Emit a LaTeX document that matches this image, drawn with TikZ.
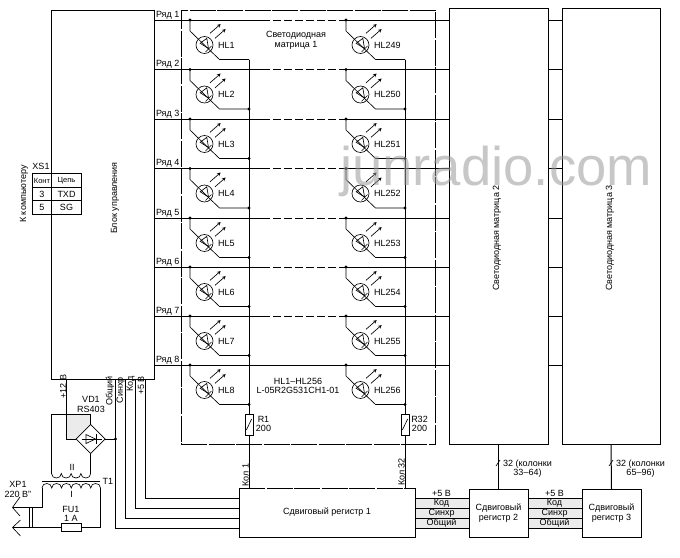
\documentclass[tikz,border=0pt]{standalone}
\usepackage{fontspec}
\setmainfont{Liberation Sans}
\usepackage{tikz}
\usetikzlibrary{shapes.geometric}
\usetikzlibrary{arrows}
\tikzset{
  every path/.style={line width=0.65pt},
  every node/.style={font=\fontsize{9}{9.5}\selectfont,inner sep=0pt,outer sep=0pt},
  box/.style={draw,inner sep=0pt,outer sep=0pt},
  ledbody/.style={draw,circle,minimum size=17pt},
  longdash/.style={dash pattern=on 26pt off 1.5pt},
  omitdash/.style={dash pattern=on 8pt off 3pt},
  lab/.style={align=center},
  shade/.style={fill=black!8,draw=none},
  tabtxt/.style={font=\fontsize{7.5}{8}\selectfont}
}
\newcommand{\dotmark}[1]{\fill #1 circle (1.7pt);}
\newcommand{\ledcell}[3]{
\coordinate (d#3) at (#1,#2);
\node[ledbody] (#3) at (#1+14.5,#2+25) {};
\node[anchor=west] (t#3) at (#1+28,#2+25) {#3};
\dotmark{(d#3)}
\draw (d#3) -- ++(0,11) -- (#1+18.5,#2+29) -- (#1+29.5,#2+39.5) -- (#1+59,#2+39.5);
\draw (#1+18.5,#2+28.5) -- (#1+10.2,#2+23.3) -- (#1+16.8,#2+18.3) -- cycle;
\draw (#1+15.5,#2+32) -- (#1+21.5,#2+26);
\draw[->,>=stealth] (#1+20,#2+13.3) -- (#1+30.7,#2+4);
\draw[->,>=stealth] (#1+25,#2+18.3) -- (#1+35.7,#2+9);
}
\begin{document}
\begin{tikzpicture}[x=1pt,y=-1pt]
\useasboundingbox (0,0) rectangle (680,557);
% halftone patches
\fill[shade] (66.5,414) -- (91,414) -- (91,424) -- (76.5,439) -- (66.5,439) -- cycle;
\fill[shade] (415,498) rectangle (469,528);
\fill[shade] (528,498) rectangle (582,528);
% blocks
\node[box,minimum width=103pt,minimum height=369pt] (blok) at (102.5,194.5) {};
\node[rotate=90] (blokt) at (115,198) {Блок управления};
\node[box,longdash,minimum width=254pt,minimum height=434pt] (matr1) at (308,227) {};
\node[lab] (matr1t) at (296,40.5) {Светодиодная\\[0.3pt]матрица 1};
\node[lab] (hltype) at (298,386) {HL1--HL256\\L-05R2G531CH1-01};
\node[box,minimum width=99pt,minimum height=435.5pt] (matr2) at (498.5,226.25) {};
\node[rotate=90] (matr2t) at (497,238) {Светодиодная матрица 2};
\node[box,minimum width=98pt,minimum height=436pt] (matr3) at (611,226) {};
\node[rotate=90] (matr3t) at (610,238) {Светодиодная матрица 3};
\node[minimum width=176pt,minimum height=49pt] (reg1) at (327,512.5) {Сдвиговый регистр 1};
\draw (reg1.north west) -- (reg1.south west) -- (reg1.south east) -- (reg1.north east);
\draw[longdash] (reg1.north west) -- (reg1.north east);
\node[box,lab,minimum width=59pt,minimum height=48pt] (reg2) at (498.5,513) {Сдвиговый\\регистр 2};
\node[box,lab,minimum width=59pt,minimum height=48pt] (reg3) at (611.5,513) {Сдвиговый\\регистр 3};
% rows
\foreach \r/\y in {1/20,2/69.5,3/119,4/168.5,5/218,6/267,7/316}{
\draw (blok.east |- 0,\y) -- (262,\y);
\draw[omitdash] (262,\y) -- (345,\y);
\draw (345,\y) -- (matr2.west |- 0,\y);
\node[anchor=west] (ryad\r) at (156,\y-5) {Ряд \r};
}
\draw (blok.east |- 0,365) -- (matr2.west |- 0,365);
\node[anchor=west] (ryad8) at (156,360) {Ряд 8};
\foreach \y in {20,69.5,119,168.5,218,267,316,365}{
\draw (matr2.east |- 0,\y) -- (matr3.west |- 0,\y);
}
% leds
\foreach \y/\a/\b in {20/1/249,69.5/2/250,119/3/251,168.5/4/252,218/5/253,267/6/254,316/7/255,365/8/256}{
\ledcell{190}{\y}{HL\a}
\ledcell{346}{\y}{HL\b}
}
\foreach \x in {249,405}{
\foreach \y in {109,158.5,208,257.5,306.5,355.5,404.5}{
\dotmark{(\x,\y)}
}
}
% columns
\foreach \n/\x/\m/\lx/\ly in {1/249/1/245.5/475,2/405/32/401.5/472}{
\coordinate (col\n) at (\x,59.5);
\node[box,minimum width=8pt,minimum height=21pt] (res\n) at (\x,424.5) {};
\draw (col\n) -- (res\n.north);
\draw (res\n.south) -- (res\n |- reg1.north);
\draw (\x-2.7,430) -- (\x+2.7,419);
\node[rotate=90] (kol\n) at (\lx,\ly) {Кол \m};
}
\node (r1t) at (263.5,419) {R1};
\node (r1v) at (263.5,428.7) {200};
\node (r32t) at (419.5,419) {R32};
\node (r32v) at (419.5,428.7) {200};
% buses
\foreach \x/\y in {145/498,135/508,125/518,115.5/528}{
\draw (\x,379) |- (reg1.west |- 0,\y);
}
\foreach \y in {498,508,518,528}{
\draw (reg1.east |- 0,\y) -- (reg2.west |- 0,\y);
\draw (reg2.east |- 0,\y) -- (reg3.west |- 0,\y);
}
\foreach \n/\x in {a/441.5,b/554.5}{
\node (v\n) at (\x,493) {+5 В};
\node (k\n) at (\x,503) {Код};
\node (s\n) at (\x,513) {Синхр};
\node (o\n) at (\x,523) {Общий};
}
\foreach \n/\t/\x/\y in {p12/+12 В/63.3/386.5,obs/Общий/110/391,sin/Синхр/120.7/390,kod/Код/130.7/384,p5/+5 В/141/385.5}{
\node[rotate=90] (\n) at (\x,\y) {\t};
}
% 32 wires to the other matrices
\draw[line width=1pt] (matr2.south) -- (reg2.north);
\draw (496,466) -- (500,460);
\node (w2a) at (527.5,464) {32 (колонки};
\node (w2b) at (527.5,473.5) {33--64)};
\draw[line width=1pt] (matr3.south) -- (reg3.north);
\draw (609,466) -- (613,460);
\node (w3a) at (640.5,464) {32 (колонки};
\node (w3b) at (640.5,473.5) {65--96)};
% XS1
\node[box,minimum width=49pt,minimum height=41pt] (xs1) at (56.5,193.5) {};
\draw (32,187) -- (81,187);
\draw (32,200) -- (81,200);
\node (xs1t) at (41,166) {XS1};
\node[tabtxt] (kont) at (42,180.5) {Конт};
\node[tabtxt] (cep) at (66.5,180.5) {Цепь};
\node (c3) at (42,194) {3};
\node (txd) at (66.5,194) {TXD};
\node (c5) at (42,207.5) {5};
\node (sg) at (66.5,207.5) {SG};
\node[rotate=90] (komp) at (24,194) {К компьютеру};
% power supply
\node[draw,diamond,minimum size=29pt,inner sep=0pt] (vd1) at (90.7,439) {};
\draw (81.7,439) -- (101.7,439);
\draw (86,434.5) -- (86,443.5) -- (95.5,439) -- cycle;
\draw (96,434) -- (96,444);
\node[lab] (vd1t) at (91,404.5) {VD1\\RS403};
\coordinate (pw) at (66.5,379);
\draw (pw) |- (vd1.west);
\coordinate (obs1) at (115.5,439);
\draw (vd1.east) -- (obs1);
\dotmark{(obs1)}
\coordinate (w2l) at (51.5,473.5);
\coordinate (w2r) at (90.7,473.5);
\draw (vd1.north) |- (w2l |- 0,414) -- (w2l);
\draw (vd1.south) -- (w2r);
\draw (w2l) \foreach \i in {1,...,4}{ .. controls +(0,6) and +(0,6) .. ++(9.8,0)};
\node (ii) at (72,467) {II};
\coordinate (corel) at (42,481);
\coordinate (corer) at (100,481);
\draw (corel) -- (corer);
\node (t1) at (108,481) {T1};
\coordinate (w1l) at (42,488);
\coordinate (w1r) at (100.5,488);
\draw (w1l) \foreach \i in {1,...,6}{ .. controls +(0,-6) and +(0,-6) .. ++(9.75,0)};
\node (i1) at (71.5,494) {I};
\coordinate (xpa) at (12.5,507.5);
\coordinate (xpb) at (12.5,527.5);
\node[box,minimum width=19.5pt,minimum height=8.5pt] (fu1) at (71.2,527.5) {};
\draw (w1l) |- (xpa);
\draw (xpb) -- (fu1.west);
\draw (fu1.east) -| (w1r);
\draw (20,497) -- (xpa) -- (20,516);
\draw (20.5,520) -- (xpb) -- (20.5,536);
\draw (29.5,507.5) -- (29.5,527.5);
\draw (32,507.5) -- (32,527.5);
\node[lab] (xp1) at (18,489.5) {XP1\\220 В''};
\node[lab] (fu1t) at (71,514) {FU1\\1 А};
% watermark
\node[anchor=base west,text=black!40,opacity=0.55,font=\fontsize{54.5}{55}\selectfont] (mark) at (340,185) {junradio.com};
\end{tikzpicture}
\end{document}
